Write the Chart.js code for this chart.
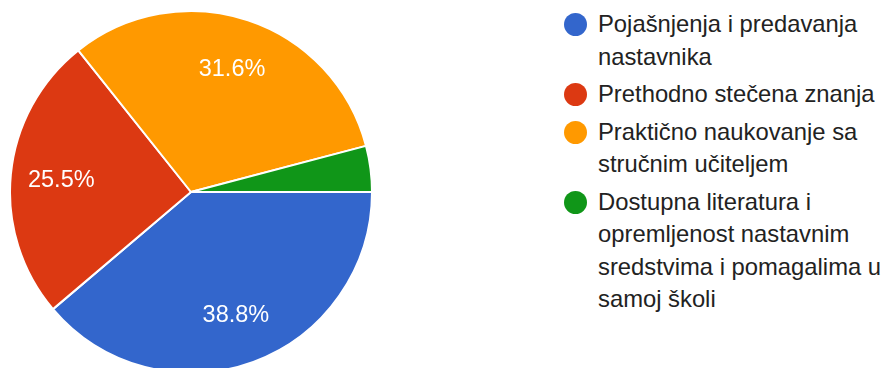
<!DOCTYPE html>
<html>
<head>
<meta charset="utf-8">
<script src="https://cdn.jsdelivr.net/npm/chart.js@4"></script>
<style>
    html, body { margin: 0; padding: 0; background: #fff; overflow: hidden; }
    body { width: 887px; height: 368px; position: relative; font-family: "Liberation Sans", Arial, sans-serif; }
    #pie-wrap { position: absolute; left: 9px; top: 9.5px; width: 364px; height: 364px; }
    #legend { position: absolute; left: 563px; top: 8px; list-style: none; margin: 0; padding: 0; }
    #legend li { position: relative; padding-left: 35px; margin-bottom: 5px; font-size: 23.8px; line-height: 32.5px; color: #222; white-space: nowrap; }
    #legend .dot { position: absolute; left: 1px; top: 5px; width: 23px; height: 23px; border-radius: 50%; }
</style>
</head>
<body>
<div id="pie-wrap"><canvas id="pieChart"></canvas></div>
<ul id="legend"></ul>
<script>
// Kategorije (svaka linija legende posebno)
const kategorije = [
    ['Pojašnjenja i predavanja', 'nastavnika'],
    ['Prethodno stečena znanja'],
    ['Praktično naukovanje sa', 'stručnim učiteljem'],
    ['Dostupna literatura i', 'opremljenost nastavnim', 'sredstvima i pomagalima u', 'samoj školi']
];
const postoci = [38.8, 25.5, 31.6, 4.1];
const boje = ['#3366cc', '#dc3912', '#ff9900', '#109618'];

// Postoci ispisani unutar isječaka
const oznakePlugin = {
    id: 'oznake',
    afterDatasetsDraw(chart) {
        const ctx = chart.ctx;
        const meta = chart.getDatasetMeta(0);
        ctx.save();
        ctx.fillStyle = '#fff';
        ctx.font = '23.5px "Liberation Sans", Arial, sans-serif';
        ctx.textAlign = 'center';
        ctx.textBaseline = 'middle';
        meta.data.forEach((arc, i) => {
            const v = postoci[i];
            if (v < 5) return;
            const p = arc.getProps(['x', 'y', 'startAngle', 'endAngle', 'outerRadius'], true);
            const mid = (p.startAngle + p.endAngle) / 2;
            const r = p.outerRadius * 0.72;
            ctx.fillText(v.toFixed(1) + '%', p.x + Math.cos(mid) * r, p.y + Math.sin(mid) * r + 1);
        });
        ctx.restore();
    }
};

function createPie() {
    const ctx = document.getElementById('pieChart').getContext('2d');
    new Chart(ctx, {
        type: 'pie',
        data: {
            labels: kategorije.map(k => k.join(' ')),
            datasets: [{
                data: postoci,
                backgroundColor: boje,
                borderColor: '#fff',
                borderWidth: 2
            }]
        },
        options: {
            responsive: true,
            maintainAspectRatio: false,
            animation: false,
            rotation: 90,
            layout: { padding: 0 },
            plugins: {
                legend: { display: false },
                tooltip: { enabled: false }
            }
        },
        plugins: [oznakePlugin]
    });
}

function createLegend() {
    const ul = document.getElementById('legend');
    kategorije.forEach((linije, i) => {
        const li = document.createElement('li');
        li.innerHTML = `<span class="dot" style="background:${boje[i]}"></span>${linije.join('<br>')}`;
        ul.appendChild(li);
    });
}

document.addEventListener('DOMContentLoaded', () => {
    createPie();
    createLegend();
});
</script>
</body>
</html>
